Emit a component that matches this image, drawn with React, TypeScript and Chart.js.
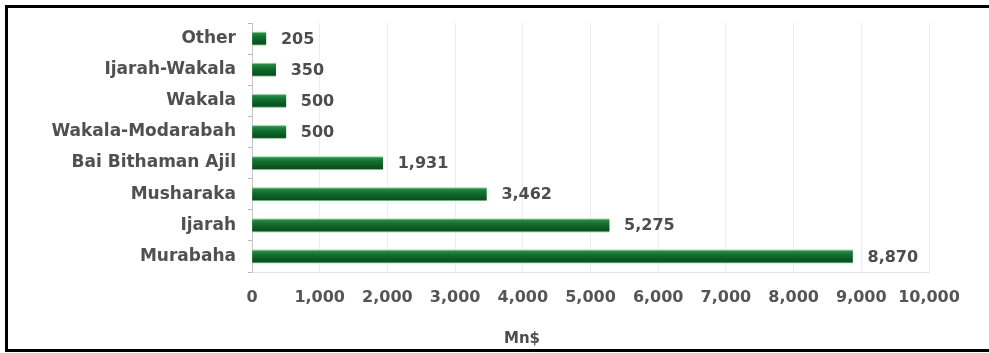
import React, { useEffect, useRef } from "react";
import { Chart, registerables } from "chart.js";

Chart.register(...registerables);

const categories = [
  "Other",
  "Ijarah-Wakala",
  "Wakala",
  "Wakala-Modarabah",
  "Bai Bithaman Ajil",
  "Musharaka",
  "Ijarah",
  "Murabaha",
];
const values = [205, 350, 500, 500, 1931, 3462, 5275, 8870];
const axisMin = 0;
const axisMax = 10000;
const axisStep = 1000;
const axisTitle = "Mn$";

const FONT = "'DejaVu Sans', sans-serif";
const fmt = (v: number) => v.toLocaleString("en-US");

const labelPlugin = {
  id: "valueLabels",
  afterDatasetsDraw(chart: any) {
    const { ctx } = chart;
    const meta = chart.getDatasetMeta(0);
    ctx.save();
    ctx.font = `bold 16px ${FONT}`;
    ctx.fillStyle = "#4d4d4d";
    ctx.textAlign = "left";
    ctx.textBaseline = "middle";
    meta.data.forEach((bar: any, i: number) => {
      ctx.fillText(fmt(values[i]), bar.x + 15, bar.y + 1);
    });
    // axis title
    ctx.font = `bold 15px ${FONT}`;
    ctx.textAlign = "center";
    ctx.fillText(axisTitle, 522, 339);
    ctx.restore();
  },
};

export default function App() {
  const ref = useRef<HTMLCanvasElement>(null);
  useEffect(() => {
    if (!ref.current) return;
    const chart = new Chart(ref.current, {
      type: "bar",
      data: {
        labels: categories,
        datasets: [
          {
            data: values,
            barThickness: 13,
            borderWidth: 0,
            backgroundColor: (c: any) => {
              const ch = c.chart;
              const ys = ch.scales && ch.scales.y;
              if (!ys || c.dataIndex === undefined) return "#0f6a2c";
              const y = ys.getPixelForValue(c.dataIndex);
              if (!isFinite(y)) return "#0f6a2c";
              const g = ch.ctx.createLinearGradient(0, y - 6.5, 0, y + 6.5);
              g.addColorStop(0, "#a8ddb0");
              g.addColorStop(0.1, "#2a8a45");
              g.addColorStop(0.35, "#137232");
              g.addColorStop(0.75, "#0b5722");
              g.addColorStop(0.92, "#0d4e1f");
              g.addColorStop(1, "#7cc488");
              return g;
            },
          },
        ],
      },
      options: {
        indexAxis: "y",
        animation: false,
        responsive: false,
        maintainAspectRatio: false,
        layout: { padding: { top: 23, right: 60, left: 0, bottom: 0 } },
        plugins: {
          legend: { display: false },
          tooltip: { enabled: false },
        },
        scales: {
          x: {
            min: axisMin,
            max: axisMax,
            afterFit: (s: any) => {
              s.height = 81;
            },
            ticks: {
              stepSize: axisStep,
              padding: 16,
              maxRotation: 0,
              minRotation: 0,
              autoSkip: false,
              color: "#555555",
              font: { family: FONT, size: 16, weight: "bold" },
              callback: (v: any) => fmt(Number(v)),
            },
            grid: { color: "#ececec", drawTicks: false },
            border: { display: true, color: "#e6e6e6" },
          },
          y: {
            afterFit: (s: any) => {
              s.width = 252;
            },
            ticks: {
              padding: 12,
              autoSkip: false,
              color: "#505050",
              font: { family: FONT, size: 17, weight: "bold" },
            },
            grid: {
              drawOnChartArea: false,
              drawTicks: true,
              tickLength: 4,
              tickColor: "#b8b8b8",
            },
            border: { display: true, color: "#c8c8c8" },
          },
        },
      },
      plugins: [labelPlugin],
    });
    return () => chart.destroy();
  }, []);

  return (
    <div>
      <div
        style={{
          position: "fixed",
          left: 5,
          top: 5,
          width: 1000,
          height: 347,
          boxSizing: "border-box",
          border: "3px solid #000",
          background: "#fff",
        }}
      />
      <canvas
        ref={ref}
        width={989}
        height={353}
        style={{ position: "fixed", left: 0, top: 0, width: 989, height: 353 }}
      />
    </div>
  );
}
